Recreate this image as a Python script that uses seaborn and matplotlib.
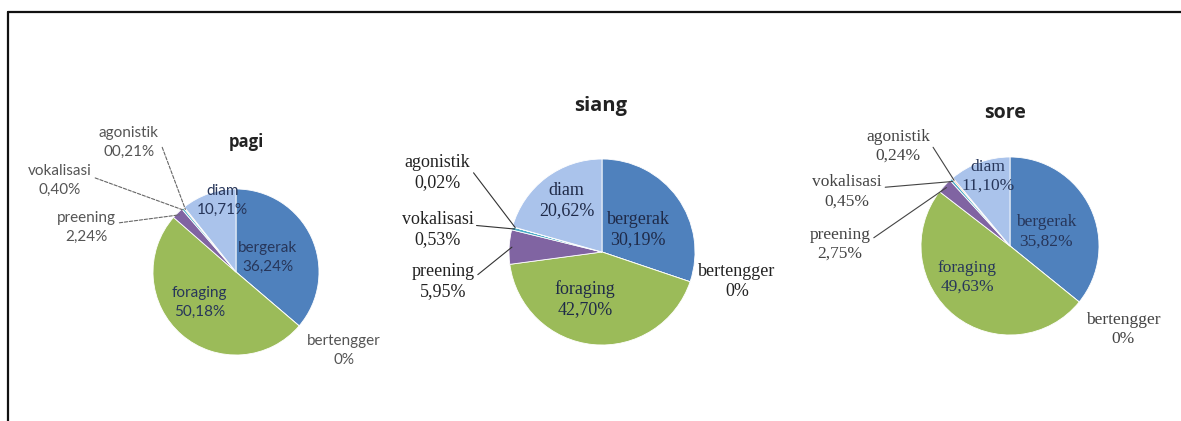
import numpy as np
import seaborn as sns
import matplotlib.pyplot as plt
from matplotlib.lines import Line2D

sns.set_theme(style='white')

# behaviour categories, in drawing order (clockwise from 12 o'clock)
categories = ['bergerak', 'bertengger', 'foraging', 'preening', 'vokalisasi', 'agonistik', 'diam']
colors = ['#4F81BD', '#C0504D', '#9BBB59', '#8064A2', '#4BACC6', '#F79646', '#AAC3EB']

titles = ['pagi', 'siang', 'sore']
pagi = [36.24, 0.0, 50.18, 2.24, 0.40, 0.21, 10.71]
siang = [30.19, 0.0, 42.70, 5.95, 0.53, 0.02, 20.62]
sore = [35.82, 0.0, 49.63, 2.75, 0.45, 0.24, 11.10]
pct_pagi = ['36,24%', '0%', '50,18%', '2,24%', '0,40%', '00,21%', '10,71%']
pct_siang = ['30,19%', '0%', '42,70%', '5,95%', '0,53%', '0,02%', '20,62%']
pct_sore = ['35,82%', '0%', '49,63%', '2,75%', '0,45%', '0,24%', '11,10%']

W, H = 1181, 421
fig = plt.figure(figsize=(W / 100, H / 100), dpi=100)
fig.patch.set_facecolor('white')

# frame lines like the original document box
fig.add_artist(Line2D([8 / W, 1], [(H - 12) / H] * 2, color='#111111', lw=1.6))
fig.add_artist(Line2D([8 / W, 8 / W], [0, (H - 12) / H], color='#111111', lw=1.6))

# layout: pie centre (px, y from top), radius px, fonts
panels = [
    dict(vals=pagi, pct=pct_pagi, cx=236, cy=272, r=83, font='Lato', fs=11, tfs=12, ls=1.45,
         title_xy=(0.12, 1.57), in_col='#27365a', out_col='#555555',
         line=dict(color='#666666', ls=(0, (3, 1.5))),
         pos={'bergerak': (0.38, 0.17), 'foraging': (-0.44, -0.37), 'diam': (-0.16, 0.86),
              'bertengger': (1.30, -0.95), 'agonistik': (-1.29, 1.56),
              'vokalisasi': (-2.12, 1.10), 'preening': (-1.80, 0.54)}),
    dict(vals=siang, pct=pct_siang, cx=602, cy=252, r=93, font='Liberation Serif', fs=13, tfs=14.5, ls=1.25,
         title_xy=(-0.01, 1.57), in_col='#1f2a48', out_col='#222222',
         line=dict(color='#333333', ls='-'),
         pos={'bergerak': (0.39, 0.24), 'foraging': (-0.18, -0.51), 'diam': (-0.38, 0.55),
              'bertengger': (1.45, -0.32), 'agonistik': (-1.77, 0.85),
              'vokalisasi': (-1.77, 0.24), 'preening': (-1.71, -0.32)}),
    dict(vals=sore, pct=pct_sore, cx=1010, cy=246, r=89, font='Liberation Serif', fs=12.5, tfs=14, ls=1.25,
         title_xy=(-0.06, 1.49), in_col='#27365a', out_col='#444444',
         line=dict(color='#444444', ls='-'),
         pos={'bergerak': (0.41, 0.16), 'foraging': (-0.48, -0.35), 'diam': (-0.25, 0.78),
              'bertengger': (1.27, -0.94), 'agonistik': (-1.26, 1.12),
              'vokalisasi': (-1.83, 0.61), 'preening': (-1.91, 0.02)}),
]

inside = ['bergerak', 'foraging', 'diam']
leader = ['agonistik', 'vokalisasi', 'preening']
k = 2.6

for title, p in zip(titles, panels):
    r = p['r']
    ax = fig.add_axes([(p['cx'] - k * r) / W, (H - p['cy'] - k * r) / H,
                       2 * k * r / W, 2 * k * r / H])
    vals = np.array(p['vals'])
    ax.pie(vals, colors=colors, startangle=90, counterclock=False, radius=1,
           wedgeprops=dict(edgecolor='white', linewidth=0.6))
    ax.set_xlim(-k, k)
    ax.set_ylim(-k, k)
    ax.axis('off')

    cum = np.cumsum(vals) / vals.sum()
    mids = cum - vals / vals.sum() / 2
    for i, cat in enumerate(categories):
        lab = cat + '\n' + p['pct'][i]
        tx, ty = p['pos'][cat]
        if cat in inside:
            ax.text(tx, ty, lab, ha='center', va='center', fontsize=p['fs'],
                    family=p['font'], color=p['in_col'], linespacing=p['ls'])
        elif cat in leader:
            ang = np.deg2rad(90 - 360 * mids[i])
            ax.annotate(lab, xy=(0.97 * np.cos(ang), 0.97 * np.sin(ang)), xytext=(tx, ty),
                        ha='center', va='center', fontsize=p['fs'], family=p['font'],
                        color=p['out_col'], linespacing=p['ls'],
                        arrowprops=dict(arrowstyle='-', color=p['line']['color'], lw=0.8,
                                        linestyle=p['line']['ls'],
                                        relpos=(1.0, 0.62), shrinkA=0, shrinkB=0))
        else:
            ax.text(tx, ty, lab, ha='center', va='center', fontsize=p['fs'],
                    family=p['font'], color=p['out_col'], linespacing=p['ls'])
    ax.text(p['title_xy'][0], p['title_xy'][1], title, ha='center', va='center',
            fontsize=p['tfs'], fontweight='bold', family='Open Sans', color='#222222')

fig.savefig('out.png', dpi=100, facecolor='white')
